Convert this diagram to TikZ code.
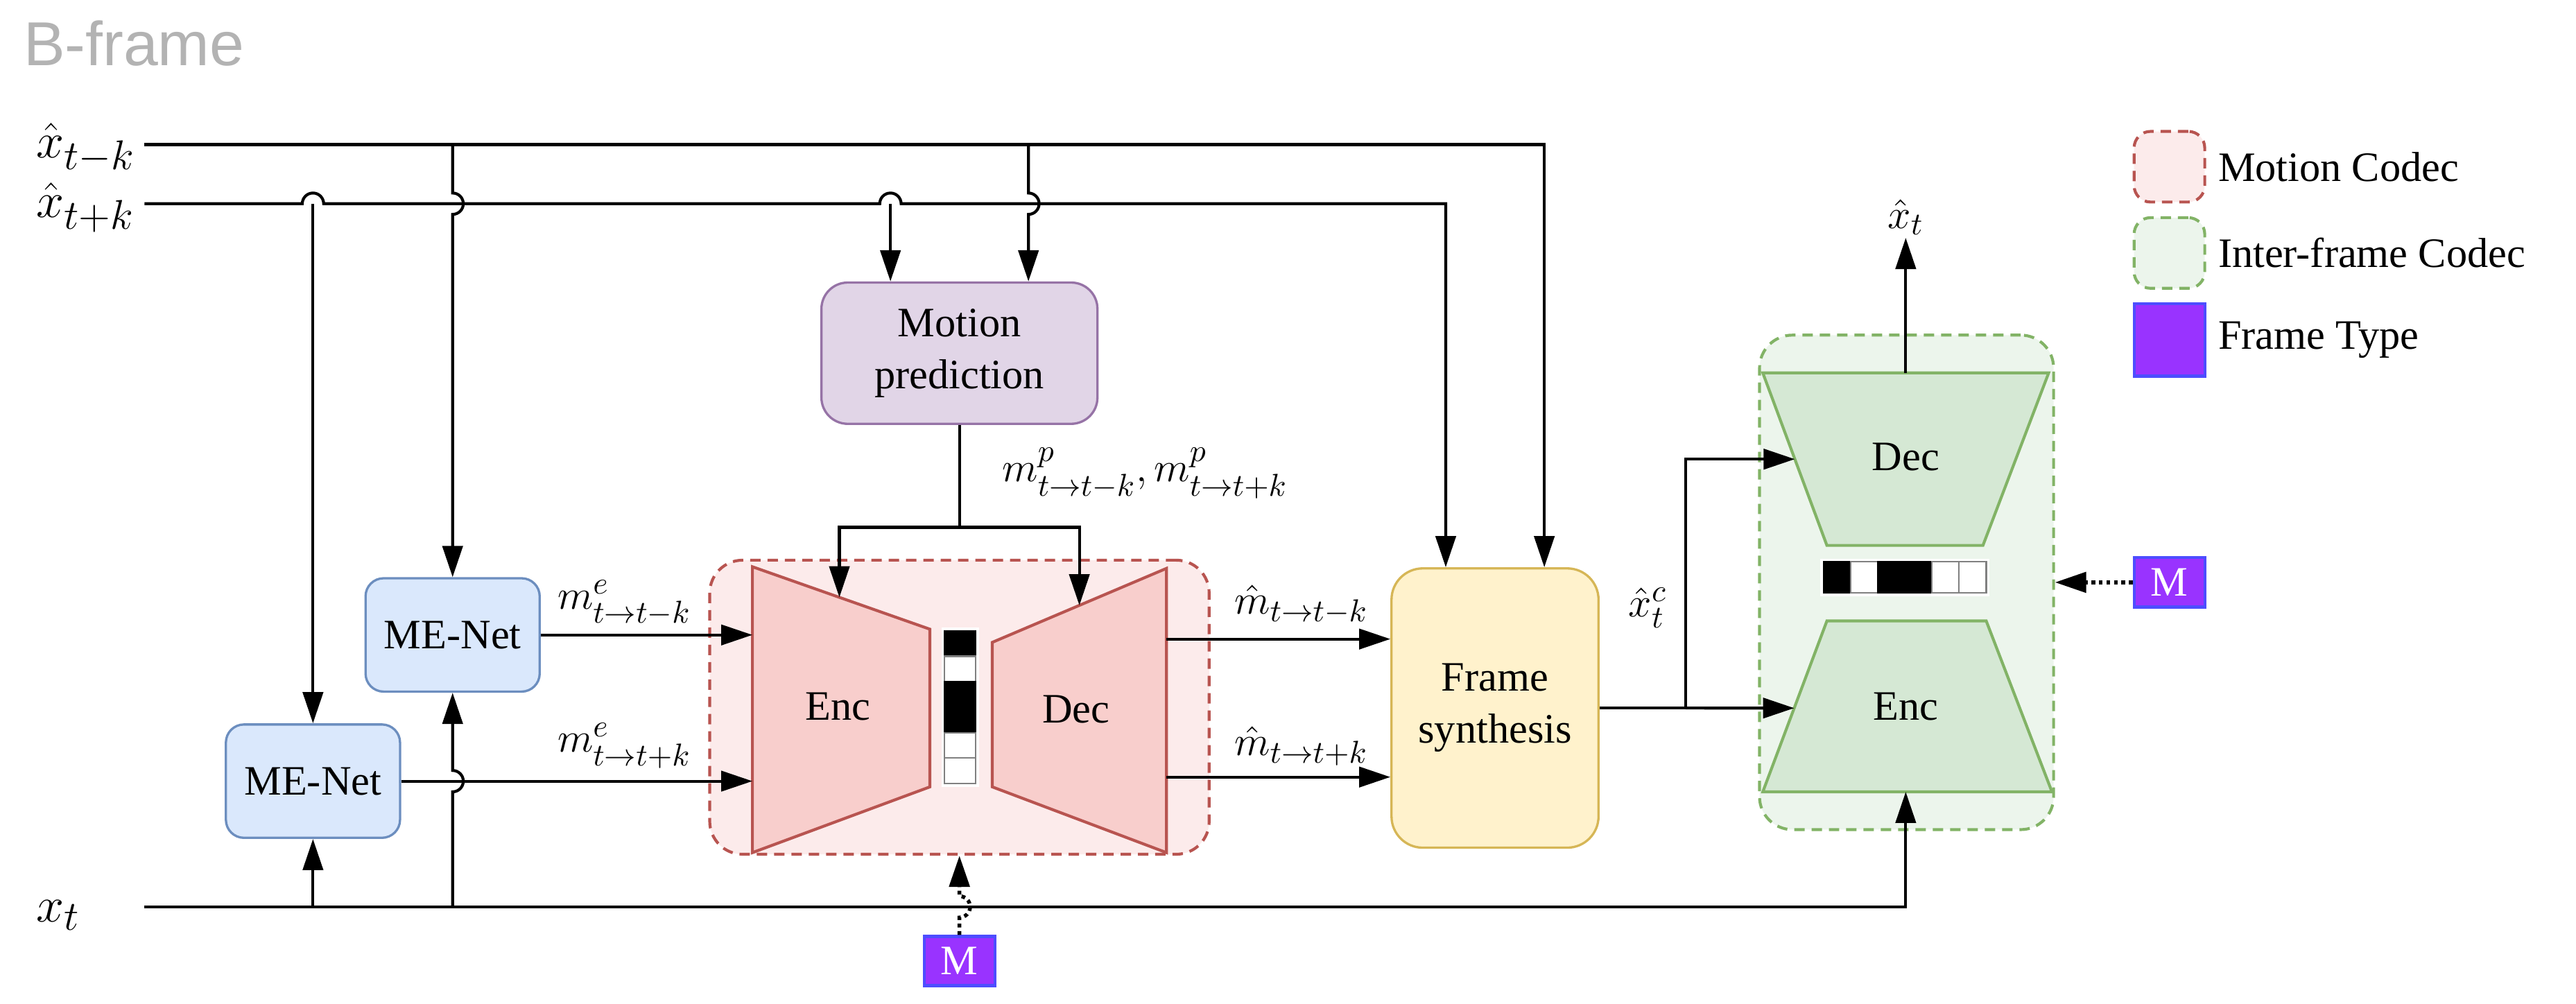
\documentclass[tikz,border=0pt]{standalone}
\usepackage{amsmath}
\usepackage{fontspec}
\setmainfont{Liberation Serif}
\newfontfamily\titlefont{Liberation Sans}
\usetikzlibrary{arrows.meta,calc}

\definecolor{meFill}{HTML}{DAE8FC}
\definecolor{meLine}{HTML}{6C8EBF}
\definecolor{mpFill}{HTML}{E1D5E7}
\definecolor{mpLine}{HTML}{9673A6}
\definecolor{mcFill}{HTML}{F8CECC}
\definecolor{mcLine}{HTML}{B85450}
\definecolor{fsFill}{HTML}{FFF2CC}
\definecolor{fsLine}{HTML}{D6B656}
\definecolor{icFill}{HTML}{D5E8D4}
\definecolor{icLine}{HTML}{82B366}
\definecolor{ftFill}{HTML}{9933FF}
\definecolor{ftLine}{HTML}{4D4DFF}
\definecolor{titleGray}{HTML}{B3B3B3}

\begin{document}
\begin{tikzpicture}[
  txt/.style={font=\fontsize{14.5}{18}\selectfont, align=center},
  sym/.style={font=\fontsize{15}{18}\selectfont, inner sep=1pt},
  insym/.style={font=\fontsize{19}{22}\selectfont, inner sep=1pt, anchor=west},
  wire/.style={line width=1pt},
  arr/.style={line width=1pt, -{Triangle[length=10.8pt,width=7pt]}},
  dotarr/.style={line width=1.3pt, dash pattern=on 1.3pt off 1.3pt, -{Triangle[length=10.8pt,width=7pt]}},
  menet/.style={txt, draw=meLine, fill=meFill, line width=0.8pt, rounded corners=0.22cm, minimum width=2.12cm, minimum height=1.38cm},
  predbox/.style={txt, draw=mpLine, fill=mpFill, line width=0.8pt, rounded corners=0.32cm, minimum width=3.36cm, minimum height=1.72cm},
  synbox/.style={txt, draw=fsLine, fill=fsFill, line width=0.8pt, rounded corners=0.38cm, minimum width=2.52cm, minimum height=3.40cm},
  mcbox/.style={draw=mcLine, fill=mcFill!40, line width=1pt, dash pattern=on 3.6pt off 2.4pt, rounded corners=0.4cm},
  icbox/.style={draw=icLine, fill=icFill!45, line width=1pt, dash pattern=on 3.6pt off 2.4pt, rounded corners=0.4cm},
  mcpart/.style={draw=mcLine, fill=mcFill, line width=1pt},
  icpart/.style={draw=icLine, fill=icFill, line width=1pt},
  ftype/.style={txt, draw=ftLine, fill=ftFill, line width=1pt, text=white, inner sep=0, minimum width=0.86cm, minimum height=0.60cm}
]
\useasboundingbox (0,0) rectangle (31.36,-12.22);
\node[anchor=base west, inner sep=0, text=titleGray, font=\titlefont\fontsize{21.5}{24}\selectfont] (title) at (0.28,-0.80) {B-frame};

% inputs
\node[insym] (xprev) at (0.40,-1.80) {$\hat{x}_{t-k}$};
\node[insym] (xnext) at (0.40,-2.53) {$\hat{x}_{t+k}$};
\node[insym] (xcur) at (0.40,-11.14) {$x_t$};
\coordinate (a0) at (1.76,-1.76);
\coordinate (b0) at (1.76,-2.48);
\coordinate (c0) at (1.76,-11.04);

% codec containers
\node[mcbox, minimum width=6.08cm, minimum height=3.58cm] (mc) at (11.68,-8.61) {};
\node[icbox, minimum width=3.58cm, minimum height=6.02cm] (ic) at (23.21,-7.09) {};

% motion codec
\draw[mcpart] (9.16,-6.90) coordinate (eTL) -- (11.32,-7.66) coordinate (eTR) -- (11.32,-9.58) -- (9.16,-10.38) -- cycle;
\draw[mcpart] (12.08,-7.82) coordinate (dTL) -- (14.20,-6.92) coordinate (dTR) -- (14.20,-10.38) -- (12.08,-9.58) -- cycle;
\node[txt] (mEnc) at (10.20,-8.60) {Enc};
\node[txt] (mDec) at (13.10,-8.64) {Dec};
\fill[white] (11.46,-7.64) rectangle (11.92,-9.58);
\foreach \c/\d [count=\i from 0] in {black/black,white/gray,black/black,black/black,white/gray,white/gray}
  \filldraw[fill=\c, draw=\d, line width=0.5pt] (11.50,{-7.68-0.31*\i}) rectangle ++(0.38,-0.31);
\coordinate (encIn) at ($(eTL)!0.49!(eTR)$);
\coordinate (decIn) at ($(dTL)!0.5!(dTR)$);

% inter-frame codec
\draw[icpart] (21.46,-4.54) coordinate (iDTL) -- (24.94,-4.54) -- (24.14,-6.64) -- (22.24,-6.64) coordinate (iDBL) -- cycle;
\draw[icpart] (22.24,-7.56) coordinate (iETL) -- (24.18,-7.56) -- (24.98,-9.64) -- (21.46,-9.64) coordinate (iEBL) -- cycle;
\node[txt] (iDec) at (23.20,-5.56) {Dec};
\node[txt] (iEnc) at (23.20,-8.60) {Enc};
\fill[white] (22.16,-6.80) rectangle (24.22,-7.26);
\foreach \c/\d [count=\i from 0] in {black/black,white/gray,black/black,black/black,white/gray,white/gray}
  \filldraw[fill=\c, draw=\d, line width=0.5pt] ({22.20+0.33*\i},-6.84) rectangle ++(0.33,-0.38);
\coordinate (iDecIn) at ($(iDTL)!0.5!(iDBL)$);
\coordinate (iEncIn) at ($(iETL)!0.51!(iEBL)$);
\coordinate (iDecOut) at (23.20,-4.54);
\coordinate (iEncBot) at (23.20,-9.64);

% blocks
\node[menet] (meA) at (5.51,-7.73) {ME-Net};
\node[menet] (meB) at (3.81,-9.51) {ME-Net};
\node[predbox] (mp) at (11.68,-4.30) {Motion\\prediction};
\node[synbox] (fs) at (18.20,-8.62) {Frame\\synthesis};
\node[ftype] (mA) at (11.68,-11.70) {M};
\node[ftype] (mB) at (26.41,-7.09) {M};
\coordinate (mpInB) at ($(mp.north)+(-0.84,0)$);
\coordinate (mpInA) at ($(mp.north)+(0.84,0)$);
\coordinate (fsInB) at ($(fs.north)+(-0.60,0)$);
\coordinate (fsInA) at ($(fs.north)+(0.60,0)$);
\coordinate (fsInL1) at ($(fs.west)+(0,0.84)$);
\coordinate (fsInL2) at ($(fs.west)+(0,-0.84)$);

% reference frames
\draw[arr] (a0) -- (fsInA |- a0) -- (fsInA);
\draw[arr] (b0) -- (3.68,-2.48) arc[start angle=180,end angle=0,radius=0.13]
  -- (10.71,-2.48) arc[start angle=180,end angle=0,radius=0.13]
  -- (fsInB |- b0) -- (fsInB);
\draw[arr] (meB.north |- b0) -- (meB.north);
\draw[arr] (mpInB |- b0) -- (mpInB);
\draw[arr] (meA.north |- a0) -- (5.51,-2.35) arc[start angle=90,end angle=-90,radius=0.13] -- (meA.north);
\draw[arr] (mpInA |- a0) -- (12.52,-2.35) arc[start angle=90,end angle=-90,radius=0.13] -- (mpInA);

% current frame
\draw[arr] (c0) -- (iEncBot |- c0) -- (iEncBot);
\draw[arr] (meB.south |- c0) -- (meB.south);
\draw[arr] (meA.south |- c0) -- (5.51,-9.64) arc[start angle=-90,end angle=90,radius=0.13] -- (meA.south);

% motion
\draw[arr] (meA.east) -- (meA.east -| eTL);
\draw[arr] (meB.east) -- (meB.east -| eTL);
\node[sym] (meLblA) at (7.60,-7.34) {$m^{e}_{t\to t-k}$};
\node[sym] (meLblB) at (7.60,-9.08) {$m^{e}_{t\to t+k}$};
\coordinate (split) at (11.68,-6.42);
\draw[wire] (mp.south) -- (split);
\draw[arr] (split) -- (encIn |- split) -- (encIn);
\draw[arr] (split) -- (decIn |- split) -- (decIn);
\node[sym, anchor=west] (mpLbl) at (12.16,-5.76) {$m^{p}_{t\to t-k}, m^{p}_{t\to t+k}$};
\draw[arr] (fsInL1 -| dTR) -- (fsInL1);
\draw[arr] (fsInL2 -| dTR) -- (fsInL2);
\node[sym] (mhLblA) at (15.84,-7.36) {$\hat{m}_{t\to t-k}$};
\node[sym] (mhLblB) at (15.84,-9.08) {$\hat{m}_{t\to t+k}$};

% synthesis and inter-frame coding
\coordinate (junc) at (20.52,-8.62);
\draw[wire] (fs.east) -- (junc);
\draw[arr] (junc) -- (iEncIn);
\draw[arr] (junc) -- (junc |- iDecIn) -- (iDecIn);
\node[sym] (xcLbl) at (20.06,-7.40) {$\hat{x}^{c}_{t}$};
\node[sym] (xout) at (23.20,-2.64) {$\hat{x}_t$};
\draw[arr] (iDecOut) -- (xout.south);

% frame type
\draw[dotarr] (mA.north) -- (11.68,-11.17) arc[start angle=-90,end angle=90,radius=0.13] -- (mc.south);
\draw[dotarr] (mB.west) -- (ic.east);

% legend
\node[mcbox, minimum width=0.86cm, minimum height=0.86cm, rounded corners=0.2cm] (legMC) at (26.41,-2.03) {};
\node[icbox, minimum width=0.86cm, minimum height=0.86cm, rounded corners=0.2cm] (legIC) at (26.41,-3.08) {};
\node[ftype, minimum height=0.88cm] (legFT) at (26.41,-4.14) {};
\node[txt, anchor=west, inner sep=0] (legMCt) at ($(legMC.east)+(0.14,0)$) {Motion Codec};
\node[txt, anchor=west, inner sep=0] (legICt) at ($(legIC.east)+(0.14,0)$) {Inter-frame Codec};
\node[txt, anchor=west, inner sep=0] (legFTt) at ($(legFT.east)+(0.14,0)$) {Frame Type};
\end{tikzpicture}
\end{document}
